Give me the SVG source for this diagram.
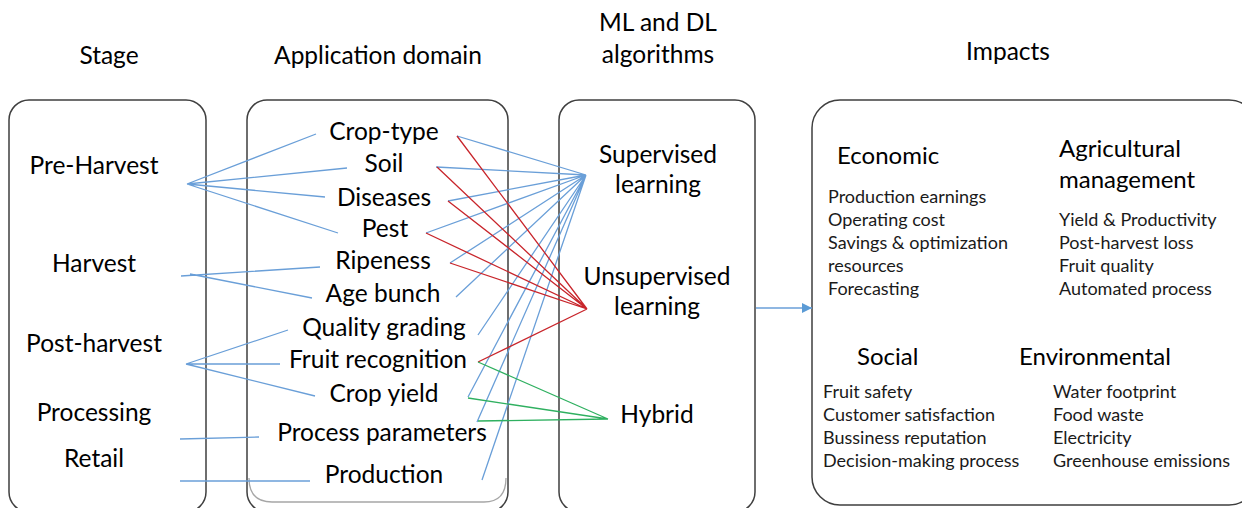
<svg xmlns="http://www.w3.org/2000/svg" width="1242" height="508" viewBox="0 0 1242 508">
  <defs>
    <style>
      .box { fill: #ffffff; stroke: #3f3f3f; stroke-width: 1.5; }
      .inner { fill: none; stroke: #a6a6a6; stroke-width: 1.3; }
      .t { font-family: Lato, "Open Sans", "Liberation Sans", sans-serif; fill: #000000; }
      .title { font-size: 24.5px; text-anchor: middle; }
      .lbl { font-size: 24.5px; text-anchor: middle; }
      .head { font-size: 24px; }
      .item { font-size: 18px; fill: #1a1a1a; }
      .blue { stroke: #6a9fd8; stroke-width: 1.3; fill: none; }
      .red { stroke: #c8252b; stroke-width: 1.3; fill: none; }
      .green { stroke: #2fb060; stroke-width: 1.3; fill: none; }
    </style>
    <marker id="arrow" viewBox="0 0 10 10" refX="10" refY="5" markerWidth="10" markerHeight="10" markerUnits="userSpaceOnUse" orient="auto">
      <path d="M0,0 L10,5 L0,10 Z" fill="#5b9bd5"/>
    </marker>
  </defs>

  <rect width="1242" height="508" fill="#ffffff"/>

  <!-- column titles -->
  <g id="titles">
    <text class="t title" x="109" y="64">Stage</text>
    <text class="t title" x="378" y="64">Application domain</text>
    <text class="t title" x="658" y="31">ML and DL</text>
    <text class="t title" x="658" y="63">algorithms</text>
    <text class="t title" x="1008" y="60">Impacts</text>
  </g>

  <!-- Stage column -->
  <g id="stage">
    <rect class="box" x="9" y="100" width="197" height="412" rx="20"/>
    <text class="t lbl" x="94" y="174">Pre-Harvest</text>
    <text class="t lbl" x="94" y="272">Harvest</text>
    <text class="t lbl" x="94" y="352">Post-harvest</text>
    <text class="t lbl" x="94" y="421">Processing</text>
    <text class="t lbl" x="94" y="467">Retail</text>
  </g>

  <!-- Application domain column -->
  <g id="application-domain">
    <rect class="box" x="247" y="100" width="261" height="412" rx="20"/>
    <path class="inner" d="M249,478 Q249,502 272,502 L484,502 Q506,502 506,478"/>
    <text class="t lbl" x="384" y="140">Crop-type</text>
    <text class="t lbl" x="384" y="172">Soil</text>
    <text class="t lbl" x="384" y="206">Diseases</text>
    <text class="t lbl" x="385" y="237">Pest</text>
    <text class="t lbl" x="383" y="269">Ripeness</text>
    <text class="t lbl" x="383" y="302">Age bunch</text>
    <text class="t lbl" x="384" y="336">Quality grading</text>
    <text class="t lbl" x="378" y="368">Fruit recognition</text>
    <text class="t lbl" x="384" y="402">Crop yield</text>
    <text class="t lbl" x="382" y="441">Process parameters</text>
    <text class="t lbl" x="384" y="483">Production</text>
  </g>

  <!-- ML and DL algorithms column -->
  <g id="algorithms">
    <rect class="box" x="559" y="100" width="196" height="412" rx="20"/>
    <text class="t lbl" x="658" y="163">Supervised</text>
    <text class="t lbl" x="658" y="193">learning</text>
    <text class="t lbl" x="657" y="285">Unsupervised</text>
    <text class="t lbl" x="657" y="315">learning</text>
    <text class="t lbl" x="657" y="423">Hybrid</text>
  </g>

  <!-- Impacts column -->
  <g id="impacts">
    <rect class="box" x="812" y="100" width="445" height="405" rx="28"/>
    <text class="t head" x="837" y="164">Economic</text>
    <text class="t item" x="828" y="203">Production earnings</text>
    <text class="t item" x="828" y="226">Operating cost</text>
    <text class="t item" x="828" y="249">Savings &amp; optimization</text>
    <text class="t item" x="828" y="272">resources</text>
    <text class="t item" x="828" y="295">Forecasting</text>

    <text class="t head" x="1059" y="157">Agricultural</text>
    <text class="t head" x="1059" y="188">management</text>
    <text class="t item" x="1059" y="226">Yield &amp; Productivity</text>
    <text class="t item" x="1059" y="249">Post-harvest loss</text>
    <text class="t item" x="1059" y="272">Fruit quality</text>
    <text class="t item" x="1059" y="295">Automated process</text>

    <text class="t head" x="857" y="365">Social</text>
    <text class="t item" x="823" y="398">Fruit safety</text>
    <text class="t item" x="823" y="421">Customer satisfaction</text>
    <text class="t item" x="823" y="444">Bussiness reputation</text>
    <text class="t item" x="823" y="467">Decision-making process</text>

    <text class="t head" x="1019" y="365">Environmental</text>
    <text class="t item" x="1053" y="398">Water footprint</text>
    <text class="t item" x="1053" y="421">Food waste</text>
    <text class="t item" x="1053" y="444">Electricity</text>
    <text class="t item" x="1053" y="467">Greenhouse emissions</text>
  </g>

  <!-- connectors -->
  <g id="connectors">
    <!-- stage to application domain -->
    <path class="blue" d="M187,184 L316,134 M187,184 L347,168 M187,184 L325,197 M187,184 L338,233"/>
    <path class="blue" d="M181,276 L320,267 M190,274 L312,298"/>
    <path class="blue" d="M186,364 L288,330 M186,364 L280,364 M186,364 L315,396"/>
    <path class="blue" d="M180,439 L259,437"/>
    <path class="blue" d="M180,481 L310,481"/>

    <!-- application domain to supervised learning -->
    <path class="blue" d="M586,175 L457,136 M586,175 L436,167 M586,175 L448,201 M586,175 L426,233 M586,175 L450,263 M586,175 L456,297 M586,175 L478,335 M586,175 L468,397 M586,175 L477,422 M586,175 L482,480"/>

    <!-- application domain to unsupervised learning -->
    <path class="red" d="M587,309 L457,136 M587,309 L437,167 M587,309 L448,201 M587,309 L426,233 M587,309 L450,263 M587,309 L478,362"/>

    <!-- application domain to hybrid -->
    <path class="green" d="M608,419 L478,362 M608,419 L468,398 M608,419 L478,421"/>

    <!-- algorithms to impacts -->
    <line class="blue" x1="756" y1="308" x2="812" y2="308" marker-end="url(#arrow)"/>
  </g>
</svg>
